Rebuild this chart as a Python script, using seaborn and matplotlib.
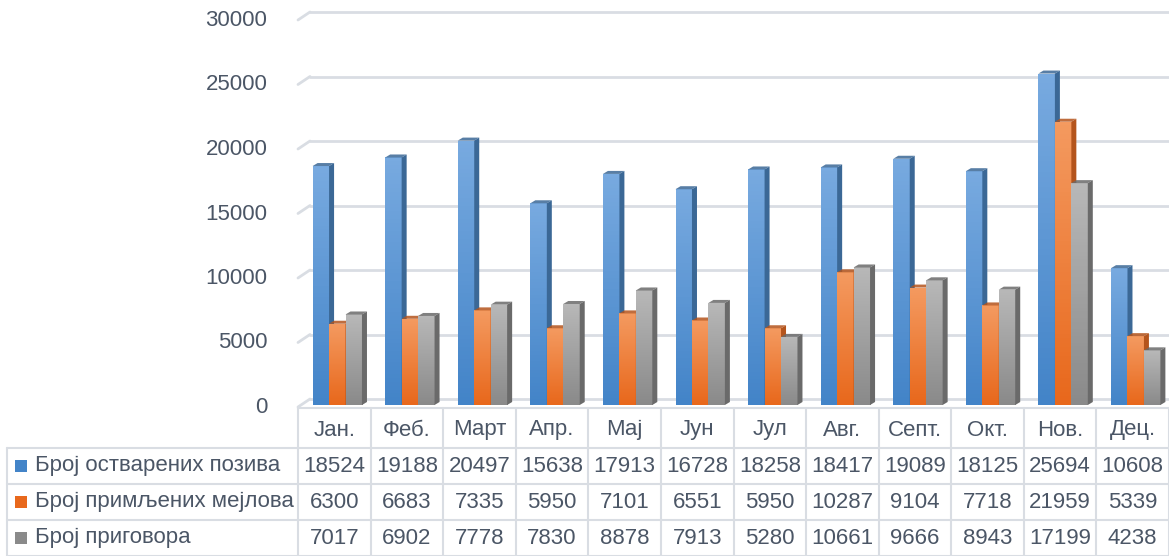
import numpy as np
import pandas as pd
import matplotlib
matplotlib.use("Agg")
import matplotlib.pyplot as plt
from matplotlib.patches import Polygon, Rectangle
from matplotlib.colors import LinearSegmentedColormap
import seaborn as sns

# ------------------------------------------------------------
# Data
# ------------------------------------------------------------
months = ["Јан.", "Феб.", "Март", "Апр.", "Мај", "Јун",
          "Јул", "Авг.", "Септ.", "Окт.", "Нов.", "Дец."]
series = ["Број остварених позива", "Број примљених мејлова", "Број приговора"]
calls = [18524, 19188, 20497, 15638, 17913, 16728, 18258, 18417, 19089, 18125, 25694, 10608]
emails = [6300, 6683, 7335, 5950, 7101, 6551, 5950, 10287, 9104, 7718, 21959, 5339]
complaints = [7017, 6902, 7778, 7830, 8878, 7913, 5280, 10661, 9666, 8943, 17199, 4238]
y_ticks = [0, 5000, 10000, 15000, 20000, 25000, 30000]

values = [calls, emails, complaints]
df = pd.DataFrame({
    "month": months * 3,
    "series": [s for s in series for _ in months],
    "value": calls + emails + complaints,
})

# colours: (top, bottom, side)
shades = [("#78aae0", "#4384c8", "#3b6896"),
          ("#f49a60", "#e8681c", "#b4541c"),
          ("#b8b8b8", "#8a8a8a", "#6a6a6a")]
text_color = "#4b5666"
line_color = "#d9dde3"

# ------------------------------------------------------------
# Figure
# ------------------------------------------------------------
sns.set_theme(style="white")
plt.rcParams["font.family"] = ["Liberation Sans", "DejaVu Sans"]

W, H = 1169, 556
fig = plt.figure(figsize=(W / 100, H / 100), dpi=100)

x0_px, x1_px = 298, 1169
ybot_px, ytop_px = 405, 18
ax = fig.add_axes([x0_px / W, 1 - ybot_px / H,
                   (x1_px - x0_px) / W, (ybot_px - ytop_px) / H])

sns.barplot(data=df, x="month", y="value", hue="series", order=months,
            hue_order=series, width=0.68, legend=False, ax=ax)

ax.set_xlim(-0.5, len(months) - 0.5)
ax.set_ylim(0, 30000)

px_x = (len(months)) / (x1_px - x0_px)   # data units per pixel (x)
px_y = 30000 / (ybot_px - ytop_px)       # data units per pixel (y)
dx, dy = 5 * px_x, 3 * px_y
shift = 3 * px_x

# gridlines with a small 3D slant on the left
for v in y_ticks:
    ax.plot([-0.5 + 12 * px_x, len(months) - 0.5], [v + 6 * px_y, v + 6 * px_y],
            color=line_color, lw=2, zorder=0, clip_on=False)
    ax.plot([-0.5, -0.5 + 12 * px_x], [v - 2 * px_y, v + 6 * px_y],
            color=line_color, lw=2, zorder=0, clip_on=False)

# gradient fronts + side/top faces
for i, cont in enumerate(ax.containers):
    top_c, bot_c, side_c = shades[i]
    cmap = LinearSegmentedColormap.from_list("g%d" % i, [bot_c, top_c])
    grad = np.linspace(0, 1, 64).reshape(-1, 1)
    for bar in cont:
        bar.set_x(bar.get_x() + shift)
        bx, bw, bh = bar.get_x(), bar.get_width(), bar.get_height()
        bar.set_facecolor(bot_c)
        bar.set_edgecolor("none")
        bar.set_zorder(2 + i)
        im = ax.imshow(grad, cmap=cmap, origin="lower", aspect="auto",
                       extent=(bx, bx + bw, 0, bh), zorder=2 + i)
        im.set_clip_path(bar)
        side = Polygon([(bx + bw, 0), (bx + bw + dx, dy), (bx + bw + dx, bh + dy), (bx + bw, bh)],
                       closed=True, facecolor=side_c, edgecolor="none", zorder=2 + i)
        top = Polygon([(bx, bh), (bx + dx, bh + dy), (bx + bw + dx, bh + dy), (bx + bw, bh)],
                      closed=True, facecolor=side_c, edgecolor="none", zorder=2 + i, alpha=0.85)
        ax.add_patch(side)
        ax.add_patch(top)

ax.set_xlim(-0.5, len(months) - 0.5)
ax.set_ylim(0, 30000)
ax.set_yticks(y_ticks)
ax.set_yticklabels([str(v) for v in y_ticks], color=text_color, fontsize=16)
ax.set_xticks([])
ax.set_xlabel("")
ax.set_ylabel("")
ax.tick_params(axis="y", length=0, pad=22)
for s in ax.spines.values():
    s.set_visible(False)
ax.patch.set_alpha(0)

# ------------------------------------------------------------
# Data table
# ------------------------------------------------------------
tab = fig.add_axes([0, 0, 1, 1], zorder=-1)
tab.set_xlim(0, W)
tab.set_ylim(H, 0)
tab.axis("off")

col_w = (x1_px - x0_px) / len(months)
row_y = [448, 484, 520, 556]
label_x0 = 7

tab.plot([x0_px, x1_px], [408, 408], color=line_color, lw=1.5)
for k in range(len(months) + 1):
    xk = x0_px + k * col_w
    tab.plot([xk, xk], [408, H], color=line_color, lw=1.5)
tab.plot([label_x0, label_x0], [row_y[0], H], color=line_color, lw=1.5)
for yk in row_y:
    tab.plot([label_x0, x1_px], [yk, yk], color=line_color, lw=1.5)

for k, m in enumerate(months):
    tab.text(x0_px + (k + 0.5) * col_w, 430, m, ha="center", va="center",
             color=text_color, fontsize=16)

for r, (name, vals) in enumerate(zip(series, values)):
    yc = (row_y[r] + row_y[r + 1]) / 2
    tab.add_patch(Rectangle((15, yc - 6), 12, 12, facecolor=shades[r][1],
                            edgecolor="none"))
    tab.text(35, yc, name, ha="left", va="center", color=text_color, fontsize=16)
    for k, v in enumerate(vals):
        tab.text(x0_px + (k + 0.5) * col_w, yc, str(v), ha="center", va="center",
                 color=text_color, fontsize=16)

fig.savefig("out.png", dpi=100)
